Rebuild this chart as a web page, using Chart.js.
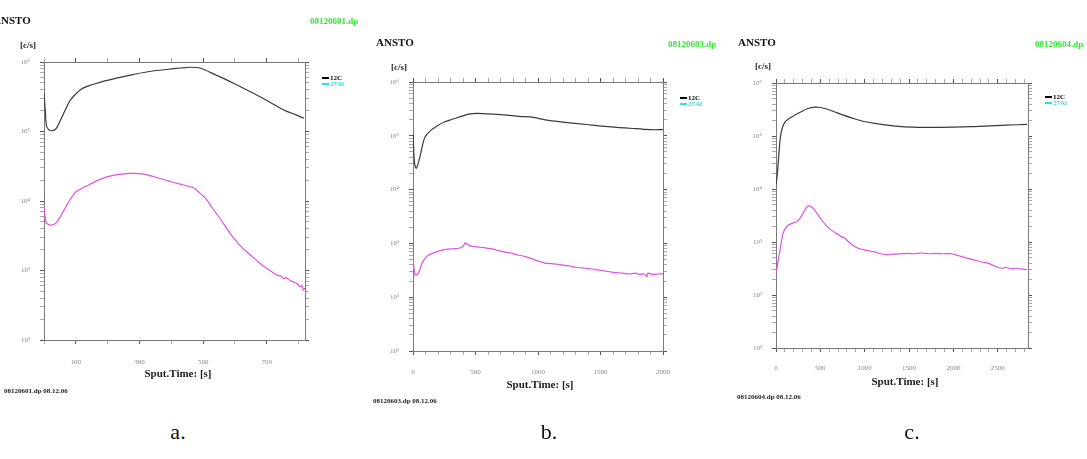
<!DOCTYPE html>
<html>
<head>
<meta charset="utf-8">
<script src="https://cdn.jsdelivr.net/npm/chart.js@4.4.0/dist/chart.umd.min.js"></script>
<style>
body { margin:0; width:1087px; height:459px; background:#fff; position:relative; overflow:hidden; font-family:"Liberation Serif","DejaVu Serif",serif; }
canvas { position:absolute; top:0; }
.t { position:absolute; white-space:nowrap; font-weight:bold; line-height:1; }
.ansto { font-size:11px; color:#111; }
.file { font-size:9px; color:#33e633; }
.unit { font-size:9px; color:#222; }
.xlab { font-size:11px; color:#222; transform:translateX(-50%); }
.foot { font-size:7px; color:#222; }
.leg { font-size:7px; line-height:6px; }
.leg span { display:inline-block; width:7px; height:2px; vertical-align:middle; margin-right:1px; }
.cap { position:absolute; font-size:22px; color:#111; transform:translateX(-50%); line-height:1; }
</style>
</head>
<body>

<canvas id="chartA" width="370" height="400" style="left:0px"></canvas>
<canvas id="chartB" width="365" height="420" style="left:370px"></canvas>
<canvas id="chartC" width="352" height="420" style="left:735px"></canvas>

<div class="t ansto" style="left:-7px;top:15px">ANSTO</div>
<div class="t file" style="left:310px;top:17px">08120601.dp</div>
<div class="t unit" style="left:20px;top:41px">[c/s]</div>
<div class="t xlab" style="left:178px;top:368px">Sput.Time: [s]</div>
<div class="t foot" style="left:4px;top:388px">08120601.dp 08.12.06</div>
<div class="t leg" style="left:322px;top:75px"><div><span style="background:#000"></span>12C</div><div style="color:#33dde0"><span style="background:#33dde0"></span>27Al</div></div>

<div class="t ansto" style="left:376px;top:37px">ANSTO</div>
<div class="t file" style="left:668px;top:40px">08120603.dp</div>
<div class="t unit" style="left:391px;top:63px">[c/s]</div>
<div class="t xlab" style="left:540px;top:379px">Sput.Time: [s]</div>
<div class="t foot" style="left:373px;top:398px">08120603.dp 08.12.06</div>
<div class="t leg" style="left:680px;top:95px"><div><span style="background:#000"></span>12C</div><div style="color:#33dde0"><span style="background:#33dde0"></span>27Al</div></div>

<div class="t ansto" style="left:738px;top:37px">ANSTO</div>
<div class="t file" style="left:1035px;top:40px">08120604.dp</div>
<div class="t unit" style="left:755px;top:62px">[c/s]</div>
<div class="t xlab" style="left:905px;top:376px">Sput.Time: [s]</div>
<div class="t foot" style="left:737px;top:394px">08120604.dp 08.12.06</div>
<div class="t leg" style="left:1045px;top:94px"><div><span style="background:#000"></span>12C</div><div style="color:#33dde0"><span style="background:#33dde0"></span>27Al</div></div>

<div class="cap" style="left:178px;top:421px">a.</div>
<div class="cap" style="left:549px;top:421px">b.</div>
<div class="cap" style="left:912px;top:421px">c.</div>

<script>
/*---- data, panel a ----- */
var timeA_c = [0, 4, 8, 16, 27, 38, 50, 66, 80, 95, 118, 150, 176, 230, 280, 330, 385, 430, 459, 490, 540, 594, 650, 700, 740, 763, 790, 817];
var c12A = [3.6e5, 2.0e5, 1.2e5, 1.05e5, 1.03e5, 1.1e5, 1.4e5, 2.0e5, 2.7e5, 3.3e5, 4.1e5, 4.7e5, 5.1e5, 5.9e5, 6.6e5, 7.3e5, 7.8e5, 8.2e5, 8.4e5, 8.2e5, 6.5e5, 5.0e5, 3.7e5, 2.8e5, 2.2e5, 1.95e5, 1.75e5, 1.55e5];
var timeA_m = [0, 3, 8, 19, 35, 50, 61, 72, 82, 100, 140, 176, 220, 270, 310, 343, 390, 427, 469, 490, 511, 530, 553, 585, 616, 640, 668, 690, 710, 731, 745, 752, 760, 773, 785, 795, 805, 810, 815, 819];
var magA = [8.5e3, 6e3, 4.8e3, 4.5e3, 4.7e3, 5.8e3, 7.1e3, 8.8e3, 1.05e4, 1.35e4, 1.7e4, 2.05e4, 2.35e4, 2.5e4, 2.45e4, 2.25e4, 1.95e4, 1.75e4, 1.55e4, 1.3e4, 1.05e4, 7.8e3, 5.6e3, 3.4e3, 2.3e3, 1.8e3, 1.4e3, 1.15e3, 1.0e3, 8.6e2, 8.3e2, 7.6e2, 7.9e2, 7.2e2, 6.8e2, 6.5e2, 5.8e2, 6.1e2, 5.2e2, 5.6e2];
var xTicksA = [0, 100, 200, 300, 400, 500, 600, 700, 800];
var xLabelsA = [100, 300, 500, 700];

/*---- data, panel b ----- */
var timeB_c = [0, 5, 12, 25, 40, 56, 75, 96, 140, 189, 250, 323, 400, 456, 509, 600, 723, 850, 963, 1070, 1200, 1390, 1560, 1736, 1896, 2000];
var c12B = [1.1e5, 6e4, 3.2e4, 2.5e4, 3.0e4, 4.1e4, 6.5e4, 9.5e4, 1.25e5, 1.5e5, 1.8e5, 2.05e5, 2.35e5, 2.55e5, 2.6e5, 2.55e5, 2.45e5, 2.3e5, 2.2e5, 1.95e5, 1.8e5, 1.62e5, 1.48e5, 1.38e5, 1.3e5, 1.3e5];
var timeB_m = [0, 5, 16, 30, 43, 56, 69, 95, 123, 180, 243, 300, 340, 376, 400, 416, 430, 456, 500, 550, 589, 640, 700, 740, 776, 820, 870, 920, 970, 1016, 1060, 1110, 1160, 1210, 1256, 1300, 1350, 1400, 1450, 1523, 1560, 1600, 1650, 1700, 1736, 1780, 1820, 1850, 1872, 1880, 1920, 1960, 2000];
var magB = [5.5e2, 4e2, 2.6e2, 2.6e2, 2.8e2, 3.3e2, 4.1e2, 5.2e2, 6.0e2, 6.9e2, 7.6e2, 7.9e2, 8.0e2, 8.2e2, 8.8e2, 1.02e3, 9.8e2, 9.0e2, 8.7e2, 8.4e2, 8.2e2, 7.8e2, 7.2e2, 6.9e2, 6.7e2, 6.2e2, 5.9e2, 5.5e2, 5.0e2, 4.6e2, 4.3e2, 4.2e2, 4.1e2, 3.9e2, 3.8e2, 3.6e2, 3.5e2, 3.4e2, 3.3e2, 3.1e2, 3.0e2, 2.9e2, 2.85e2, 2.75e2, 2.7e2, 2.8e2, 2.65e2, 2.7e2, 2.4e2, 2.8e2, 2.65e2, 2.7e2, 2.75e2];
var xTicksB = [0, 100, 200, 300, 400, 500, 600, 700, 800, 900, 1000, 1100, 1200, 1300, 1400, 1500, 1600, 1700, 1800, 1900, 2000];
var xLabelsB = [0, 500, 1000, 1500, 2000];

/*---- data, panel c ----- */
var timeC_c = [0, 10, 19, 30, 45, 60, 82, 110, 139, 200, 289, 360, 439, 500, 551, 650, 750, 851, 980, 1113, 1250, 1413, 1600, 1788, 2000, 2200, 2350, 2600, 2830];
var c12C = [1.2e4, 1.6e4, 2.3e4, 4e4, 8.3e4, 1.2e5, 1.6e5, 1.9e5, 2.1e5, 2.4e5, 2.9e5, 3.3e5, 3.5e5, 3.45e5, 3.3e5, 2.9e5, 2.5e5, 2.2e5, 1.9e5, 1.73e5, 1.6e5, 1.5e5, 1.46e5, 1.45e5, 1.47e5, 1.5e5, 1.54e5, 1.6e5, 1.66e5];
var timeC_m = [0, 15, 30, 45, 60, 82, 110, 139, 180, 232, 270, 310, 340, 364, 390, 420, 460, 514, 560, 607, 680, 740, 776, 820, 870, 926, 980, 1050, 1113, 1180, 1263, 1320, 1400, 1488, 1560, 1640, 1720, 1800, 1880, 1977, 2060, 2164, 2250, 2320, 2389, 2450, 2500, 2539, 2600, 2650, 2700, 2760, 2830];
var magC = [2.5e2, 3.5e2, 5e2, 7e2, 1.0e3, 1.5e3, 1.85e3, 2.1e3, 2.25e3, 2.4e3, 2.8e3, 3.6e3, 4.4e3, 4.8e3, 4.7e3, 4.3e3, 3.5e3, 2.6e3, 2.1e3, 1.75e3, 1.45e3, 1.25e3, 1.18e3, 1.0e3, 8.6e2, 7.6e2, 7.2e2, 6.8e2, 6.5e2, 6.0e2, 5.7e2, 5.9e2, 6.0e2, 6.1e2, 6.0e2, 6.2e2, 6.0e2, 6.1e2, 6.0e2, 6.0e2, 5.5e2, 4.9e2, 4.5e2, 4.2e2, 4.0e2, 3.6e2, 3.3e2, 3.2e2, 3.3e2, 3.1e2, 3.2e2, 3.1e2, 3.0e2];
var xTicksC = [0, 100, 200, 300, 400, 500, 600, 700, 800, 900, 1000, 1100, 1200, 1300, 1400, 1500, 1600, 1700, 1800, 1900, 2000, 2100, 2200, 2300, 2400, 2500, 2600, 2700, 2800];
var xLabelsC = [0, 500, 1000, 1500, 2000, 2500];

var sup = {0:'⁰', 1:'¹', 2:'²', 3:'³', 4:'⁴', 5:'⁵', 6:'⁶'};

function pts(xs, ys) {
	var out = [];
	for (var i = 0; i < xs.length; i++) out.push({x: xs[i], y: ys[i]});
	return out;
}

function isPow(v) {
	var l = Math.log10(v);
	return Math.abs(l - Math.round(l)) < 1e-9;
}

function logTicks(scale) {
	var t = [];
	for (var e = Math.round(Math.log10(scale.min)); e < Math.round(Math.log10(scale.max)); e++) {
		for (var s = 1; s < 10; s++) t.push({value: s * Math.pow(10, e)});
	}
	t.push({value: scale.max});
	scale.ticks = t;
}

function makePanel(id, box, xMax, yMin, xTicks, xLabels, tc, vc, tm, vm) {
	var tickFont = {family: 'Liberation Serif', size: 7};
	var gridY = {
		drawOnChartArea: false, tickLength: 4,
		color: function (c) { return isPow(c.tick.value) ? '#555' : '#aaa'; }
	};
	var gridX = {
		drawOnChartArea: false, tickLength: 4,
		color: function (c) { return xLabels.indexOf(c.tick.value) >= 0 ? '#555' : '#aaa'; }
	};
	var border = {display: true, color: '#7a7a7a'};
	return new Chart(document.getElementById(id).getContext('2d'), {
		type: 'line',
		data: {
			datasets: [{
				label: '12C',
				data: pts(tc, vc),
				borderColor: '#3a3a3a',
				borderWidth: 1.2,
				pointRadius: 0,
				tension: 0.3
			}, {
				label: '27Al',
				data: pts(tm, vm),
				borderColor: '#e050e6',
				borderWidth: 1.2,
				pointRadius: 0,
				tension: 0.2
			}]
		},
		options: {
			responsive: false,
			animation: false,
			layout: {padding: 0},
			plugins: {legend: {display: false}, tooltip: {enabled: false}},
			scales: {
				x: {
					type: 'linear', position: 'bottom', min: 0, max: xMax,
					afterBuildTicks: function (s) { s.ticks = xTicks.map(function (v) { return {value: v}; }); },
					afterFit: function (s) { s.height = box.bottom; },
					ticks: {
						font: tickFont, color: '#888', padding: box.xpad, maxRotation: 0, autoSkip: false,
						callback: function (v) { return xLabels.indexOf(v) >= 0 ? String(v) : ''; }
					},
					grid: gridX, border: border
				},
				x2: {
					type: 'linear', position: 'top', min: 0, max: xMax,
					afterBuildTicks: function (s) { s.ticks = xTicks.map(function (v) { return {value: v}; }); },
					afterFit: function (s) { s.height = box.top; },
					ticks: {display: true, autoSkip: false, callback: function () { return ''; }, font: {size: 1}, padding: 0},
					grid: gridX, border: border
				},
				y: {
					type: 'logarithmic', position: 'left', min: yMin, max: 1e6,
					afterBuildTicks: logTicks,
					afterFit: function (s) { s.width = box.left; },
					ticks: {
						font: tickFont, color: '#888', padding: 10, autoSkip: false,
						callback: function (v) { return isPow(v) ? '10' + sup[Math.round(Math.log10(v))] : ''; }
					},
					grid: gridY, border: border
				},
				y2: {
					type: 'logarithmic', position: 'right', min: yMin, max: 1e6,
					afterBuildTicks: logTicks,
					afterFit: function (s) { s.width = box.right; },
					ticks: {display: true, autoSkip: false, callback: function () { return ''; }, font: {size: 1}, padding: 0},
					grid: gridY, border: border
				}
			}
		}
	});
}

var chartA = makePanel('chartA', {left: 44, right: 65, top: 62, bottom: 60, xpad: 14}, 820, 100, xTicksA, xLabelsA, timeA_c, c12A, timeA_m, magA);
var chartB = makePanel('chartB', {left: 43, right: 72, top: 82, bottom: 69, xpad: 13}, 2000, 10, xTicksB, xLabelsB, timeB_c, c12B, timeB_m, magB);
var chartC = makePanel('chartC', {left: 41, right: 59, top: 83, bottom: 72, xpad: 12}, 2840, 10, xTicksC, xLabelsC, timeC_c, c12C, timeC_m, magC);
</script>
</body>
</html>
